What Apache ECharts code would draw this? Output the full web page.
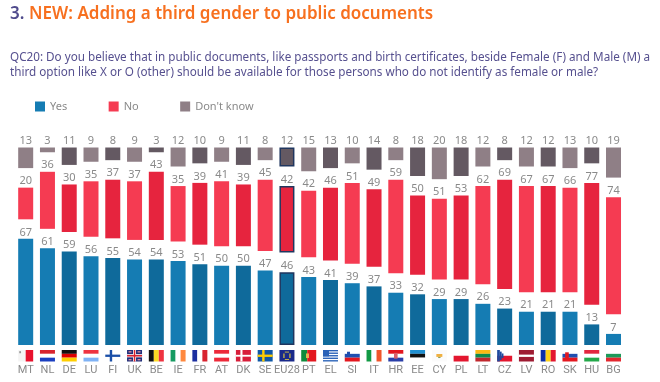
<!DOCTYPE html>
<html><head><meta charset="utf-8">
<style>html,body{margin:0;padding:0;background:#fff}#c{width:660px;height:382px}</style>
<script src="https://cdn.jsdelivr.net/npm/echarts@6/dist/echarts.min.js"></script>
</head><body><div id="c"></div>
<script>
const countries = ['MT','NL','DE','LU','FI','UK','BE','IE','FR','AT','DK','SE','EU28','PT','EL','SI','IT','HR','EE','CY','PL','LT','CZ','LV','RO','SK','HU','BG'];
const yes = [67,61,59,56,55,54,54,53,51,50,50,47,46,43,41,39,37,33,32,29,29,26,23,21,21,21,13,7];
const no = [20,36,30,35,37,37,43,35,39,41,39,45,42,42,46,51,49,59,50,51,53,62,69,67,67,66,77,74];
const dontKnow = [13,3,11,9,8,9,3,12,10,9,11,8,12,15,13,10,14,8,18,20,18,12,8,12,12,13,10,19];
const darkBars = ['DE','FI','BE','FR','DK','EU28','EL','IT','EE','PL','CZ','RO','HU'];
const GAP = 12.34;

// flag drawings: rectangles [x, y, w, h, colour] in a 0..1 box
const W='#ffffff',K='#111111';
const hs=(a,b,c)=>[[0,0,1,1/3,a],[0,1/3,1,1/3,b],[0,2/3,1,1/3,c]];
const vs=(a,b,c)=>[[0,0,1/3,1,a],[1/3,0,1/3,1,b],[2/3,0,1/3,1,c]];
const cross=(bg,c)=>[[0,0,1,1,bg],[.3,0,.16,1,c],[0,.4,1,.2,c]];
const flags = {
  MT:[[0,0,.5,1,'#f4f4f4'],[.5,0,.5,1,'#e8112d'],[.07,.1,.12,.18,'#999999']],
  NL:hs('#d8232f',W,'#1b3fc0'), DE:hs(K,'#dd0000','#ffce00'), LU:hs('#ef3340',W,'#7fb2f5'),
  FI:cross(W,'#1a4fa8'), UK:[[0,0,1,1,'#1f2f7a'],[0,.36,1,.28,W],[.4,0,.2,1,W],[0,.43,1,.14,'#d8232f'],[.45,0,.1,1,'#d8232f'],[.1,.1,.2,.12,'#d98a9a'],[.7,.78,.2,.12,'#d98a9a'],[.7,.1,.2,.12,'#d98a9a'],[.1,.78,.2,.12,'#d98a9a']],
  BE:vs(K,'#fdda24','#ef3340'), IE:vs('#169b62',W,'#ff883e'), FR:vs('#1c2fa0',W,'#d8232f'),
  AT:hs('#ed2939',W,'#ed2939'), DK:[[0,0,1,1,'#d81e3a'],[.3,0,.14,1,W],[0,.42,1,.16,W]],
  SE:cross('#0f57a6','#fecc00'), EU28:[[0,0,1,1,'#1a2a8a'],[.36,.14,.28,.08,'#d8c040'],[.36,.78,.28,.08,'#d8c040'],[.26,.3,.08,.4,'#d8c040'],[.66,.3,.08,.4,'#d8c040']],
  PT:[[0,0,.4,1,'#0f8a3c'],[.4,0,.6,1,'#e3171f'],[.32,.3,.2,.4,'#e8b050']],
  EL:[[0,0,1,1,W],[0,0,1,.12,'#2a62b8'],[0,.22,1,.12,'#2a62b8'],[0,.44,1,.12,'#2a62b8'],[0,.66,1,.12,'#2a62b8'],[0,.88,1,.12,'#2a62b8'],[0,0,.4,.56,'#2a62b8']],
  SI:[...hs(W,'#1f4fb0','#e3171f'),[.15,.15,.2,.35,'#1f4fb0']], IT:vs('#129a45',W,'#f0552a'),
  HR:[...hs('#e3171f',W,'#2a3fa8'),[.38,.25,.24,.5,'#d8606a']], EE:hs('#1f8fd0',K,W),
  CY:[[0,0,1,1,'#fbfbfb'],[.3,.35,.4,.25,'#f0b040'],[.42,.6,.16,.1,'#8aa060']],
  PL:[[0,0,1,.5,W],[0,.5,1,.5,'#e3172f']], LT:hs('#fdb913','#0f8a4c','#c1272d'),
  CZ:[[0,0,1,.5,W],[0,.5,1,.5,'#e3172f'],[0,0,.18,1,'#1f4a9e'],[.18,.14,.12,.72,'#1f4a9e'],[.3,.3,.12,.4,'#1f4a9e']],
  LV:[[0,0,1,1,'#9e1b32'],[0,.4,1,.2,W]], RO:vs('#0a2fa8','#fcd116','#e3172f'),
  SK:[...hs(W,'#1f4fb0','#e3171f'),[.18,.2,.24,.55,'#e3171f']], HU:hs('#e3273f',W,'#24a84a'), BG:hs(W,'#1c9a5a','#e3272f')
};

const palette = {
  yes:{light:'#157cb3',dark:'#0f6a9b'},
  no:{light:'#f53b52',dark:'#e6243e'},
  dk:{light:'#8f7f86',dark:'#645962'}
};
const labelGrey = '#8a8a8a';
const styled = (vals,p)=>vals.map((v,i)=>{
  const c=countries[i], d=darkBars.includes(c);
  const item={value:v,itemStyle:{color:d?p.dark:p.light}};
  if(c==='EU28'){item.itemStyle.borderColor='#20365f';item.itemStyle.borderWidth=1.5;}
  return item;
});
const barSeries=(name,vals,p)=>({
  name,type:'bar',stack:'t',barWidth:15,data:styled(vals,p),itemStyle:{color:p.light},
  label:{show:true,position:'top',distance:1,color:labelGrey,fontSize:11,fontFamily:'Noto Sans'},
  emphasis:{disabled:true},animation:false
});
const spacer=(name)=>({name,type:'bar',stack:'t',barWidth:15,data:countries.map(()=>GAP),itemStyle:{color:'transparent'},silent:true,animation:false});

const chart = echarts.init(document.getElementById('c'),null,{renderer:'canvas'});
chart.setOption({
  animation:false,
  backgroundColor:'#fff',
  textStyle:{fontFamily:'Noto Sans'},
  title:[
    {left:10,top:5,padding:0,text:'{a|3.} {b|NEW: Adding a third gender to public documents}',
     textStyle:{rich:{a:{color:'#4f4a8c',fontSize:17,fontWeight:600,fontFamily:'Noto Sans'},b:{color:'#f7701f',fontSize:17,fontWeight:600,fontFamily:'Noto Sans'}}}},
    {left:10,top:50,padding:0,text:'QC20: Do you believe that in public documents, like passports and birth certificates, beside Female (F) and Male (M) a\nthird option like X or O (other) should be available for those persons who do not identify as female or male?',
     textStyle:{color:'#56508f',fontSize:11.7,fontWeight:'normal',lineHeight:15,fontFamily:'Noto Sans'}}
  ],
  legend:{left:35,top:101,padding:0,itemWidth:10,itemHeight:10,itemGap:41.5,icon:'rect',selectedMode:false,
    data:['Yes','No',"Don't know"],textStyle:{color:'#8a8a8a',fontSize:11,fontFamily:'Noto Sans'}},
  grid:{left:14.8,width:609.6,top:147.5,bottom:37,containLabel:false},
  xAxis:{type:'category',data:countries,axisTick:{show:false},axisLine:{show:false},
    axisLabel:{interval:0,margin:20,color:labelGrey,fontSize:11,fontFamily:'Roboto'}},
  yAxis:{type:'value',min:0,max:100+2*GAP,show:false,splitLine:{show:false}},
  series:[
    barSeries('Yes',yes,palette.yes),
    spacer('gap1'),
    barSeries('No',no,palette.no),
    spacer('gap2'),
    barSeries("Don't know",dontKnow,palette.dk),
    {type:'custom',name:'flags',silent:true,clip:false,animation:false,z:5,
     data:countries.map((c,i)=>[i,0]),
     renderItem:(params,api)=>{
       const p=api.coord([api.value(0),0]), w=15,h=11.5,x0=p[0]-w/2,y0=p[1]+5;
       const c=countries[params.dataIndex];
       const children=flags[c].map(r=>({type:'rect',shape:{x:x0+r[0]*w,y:y0+r[1]*h,width:r[2]*w,height:r[3]*h},style:{fill:r[4]}}));
       return {type:'group',children};
     }}
  ]
});
</script></body></html>
